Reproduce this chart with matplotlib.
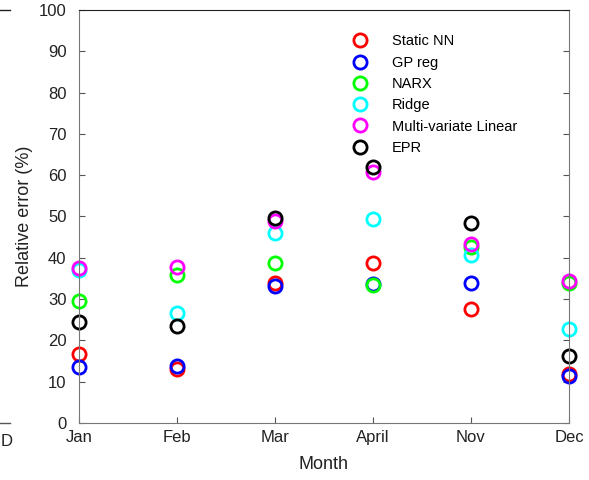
import matplotlib.pyplot as plt
from matplotlib.lines import Line2D

plt.rcParams['font.family'] = ['Liberation Sans', 'DejaVu Sans']

months = ["Jan", "Feb", "Mar", "April", "Nov", "Dec"]

static_nn = [16.6, 13.0, 33.8, 38.8, 27.7, 11.8]
gp_reg = [13.6, 13.8, 33.2, 33.7, 33.8, 11.5]
narx = [29.6, 35.8, 38.8, 33.4, 42.7, 34.0]
ridge = [37.0, 26.7, 45.9, 49.3, 40.7, 22.7]
multi_linear = [37.6, 37.7, 48.9, 60.8, 43.3, 34.3]
epr = [24.5, 23.6, 49.7, 62.1, 48.5, 16.2]

series = [
    ("Static NN", static_nn, "#ff0000"),
    ("GP reg", gp_reg, "#0000ff"),
    ("NARX", narx, "#00ff00"),
    ("Ridge", ridge, "#00ffff"),
    ("Multi-variate Linear", multi_linear, "#ff00ff"),
    ("EPR", epr, "#000000"),
]

fig = plt.figure(figsize=(5.89, 4.8), dpi=100)
ax = fig.add_axes([79 / 589, 1 - 423 / 480, 490 / 589, 413 / 480])

x = list(range(1, len(months) + 1))
for name, vals, col in series:
    ax.plot(x, vals, linestyle="none", marker="o", markersize=9.5,
            markerfacecolor="none", markeredgecolor=col,
            markeredgewidth=2, label=name, clip_on=False)

ax.set_xlim(1, 6)
ax.set_ylim(0, 100)
ax.set_xticks(x)
ax.set_xticklabels(months)
ax.set_yticks(range(0, 101, 10))
ax.tick_params(direction="in", labelsize=12, length=4, colors="#555555",
               labelcolor="#222222", right=True)
ax.tick_params(axis="y", pad=9)
ax.tick_params(axis="x", pad=5)
ax.set_xlabel("Month", fontsize=13, color="#222222", labelpad=8)
ax.set_ylabel("Relative error (%)", fontsize=13, color="#222222", labelpad=4)

for side in ["left", "right", "bottom"]:
    ax.spines[side].set_color("#777777")
ax.spines["top"].set_color("#222222")

leg = ax.legend(loc="upper left", bbox_to_anchor=(0.543, 0.955), frameon=False,
                fontsize=10.5, handletextpad=1.6, labelspacing=0.5,
                borderaxespad=0, handlelength=1.2)

# bits of the neighbouring panel cut off at the left edge
fig.add_artist(Line2D([0, 10 / 589], [1 - 10 / 480, 1 - 10 / 480], color="#222222", lw=1))
fig.add_artist(Line2D([0, 10 / 589], [1 - 423 / 480, 1 - 423 / 480], color="#555555", lw=1))
fig.text(1 / 589, 1 - 441 / 480, "D", fontsize=12, color="#222222", va="center")

fig.savefig("out.png", dpi=100)
